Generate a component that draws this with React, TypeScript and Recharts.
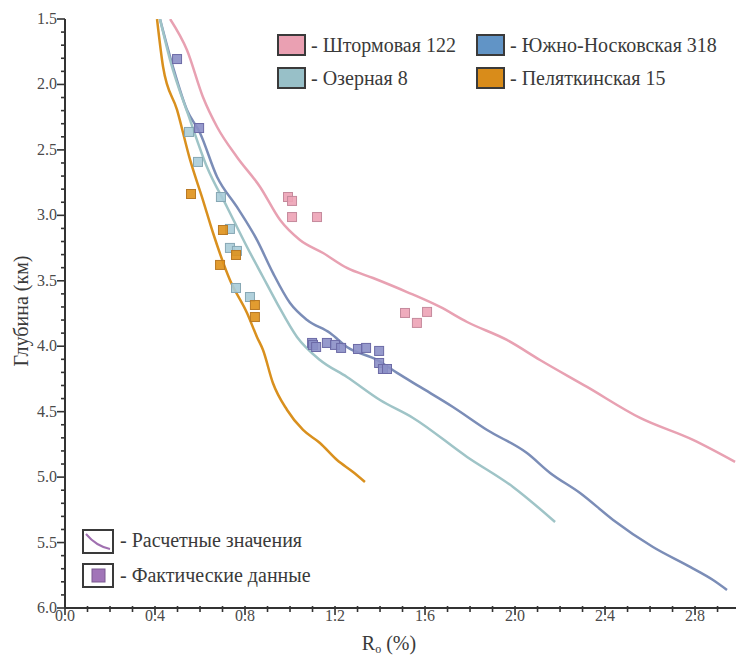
import { ComposedChart, Line, Scatter, XAxis, YAxis } from 'recharts';

// Расчетные кривые: R0 (%) vs глубина (км)
const shtormovayaLine = [
  { r: 0.467, d: 1.5 }, { r: 0.542, d: 1.737 }, { r: 0.613, d: 2.096 }, { r: 0.676, d: 2.325 },
  { r: 0.764, d: 2.554 }, { r: 0.867, d: 2.783 }, { r: 0.956, d: 3.036 }, { r: 1.044, d: 3.188 },
  { r: 1.147, d: 3.288 }, { r: 1.253, d: 3.402 }, { r: 1.369, d: 3.479 }, { r: 1.52, d: 3.586 },
  { r: 1.667, d: 3.7 }, { r: 1.787, d: 3.815 }, { r: 1.964, d: 3.952 }, { r: 2.111, d: 4.105 },
  { r: 2.32, d: 4.311 }, { r: 2.556, d: 4.548 }, { r: 2.791, d: 4.716 }, { r: 2.978, d: 4.884 },
];
const noskovskayaLine = [
  { r: 0.422, d: 1.5 }, { r: 0.48, d: 1.867 }, { r: 0.542, d: 2.195 }, { r: 0.6, d: 2.371 },
  { r: 0.676, d: 2.707 }, { r: 0.764, d: 2.936 }, { r: 0.853, d: 3.188 }, { r: 0.924, d: 3.44 },
  { r: 1.0, d: 3.67 }, { r: 1.076, d: 3.8 }, { r: 1.178, d: 3.899 }, { r: 1.253, d: 4.006 },
  { r: 1.387, d: 4.105 }, { r: 1.476, d: 4.204 }, { r: 1.578, d: 4.311 }, { r: 1.724, d: 4.464 },
  { r: 1.876, d: 4.64 }, { r: 2.053, d: 4.816 }, { r: 2.156, d: 4.968 }, { r: 2.289, d: 5.121 },
  { r: 2.436, d: 5.327 }, { r: 2.613, d: 5.534 }, { r: 2.778, d: 5.686 }, { r: 2.88, d: 5.786 },
  { r: 2.942, d: 5.862 },
];
const ozernayaLine = [
  { r: 0.422, d: 1.5 }, { r: 0.467, d: 1.813 }, { r: 0.556, d: 2.272 }, { r: 0.631, d: 2.631 },
  { r: 0.72, d: 2.936 }, { r: 0.809, d: 3.242 }, { r: 0.88, d: 3.471 }, { r: 0.942, d: 3.67 },
  { r: 1.031, d: 3.929 }, { r: 1.133, d: 4.105 }, { r: 1.253, d: 4.235 }, { r: 1.4, d: 4.411 },
  { r: 1.547, d: 4.548 }, { r: 1.787, d: 4.846 }, { r: 1.991, d: 5.075 }, { r: 2.178, d: 5.343 },
];
const pelyatkinskayaLine = [
  { r: 0.409, d: 1.5 }, { r: 0.436, d: 1.867 }, { r: 0.498, d: 2.195 }, { r: 0.556, d: 2.577 },
  { r: 0.613, d: 2.883 }, { r: 0.658, d: 3.135 }, { r: 0.733, d: 3.494 }, { r: 0.809, d: 3.746 },
  { r: 0.853, d: 3.929 }, { r: 0.88, d: 4.029 }, { r: 0.924, d: 4.281 }, { r: 0.987, d: 4.487 },
  { r: 1.058, d: 4.64 }, { r: 1.133, d: 4.739 }, { r: 1.209, d: 4.869 }, { r: 1.28, d: 4.961 },
  { r: 1.333, d: 5.037 },
];

// Фактические данные
const shtormovayaPoints = [
  { r: 0.991, d: 2.86 }, { r: 1.009, d: 2.89 }, { r: 1.009, d: 3.013 }, { r: 1.12, d: 3.013 },
  { r: 1.511, d: 3.746 }, { r: 1.564, d: 3.822 }, { r: 1.609, d: 3.738 },
];
const noskovskayaPoints = [
  { r: 0.498, d: 1.806 }, { r: 0.596, d: 2.333 },
  { r: 1.098, d: 3.975 }, { r: 1.102, d: 3.99 }, { r: 1.116, d: 4.006 }, { r: 1.164, d: 3.975 },
  { r: 1.2, d: 3.99 }, { r: 1.227, d: 4.013 }, { r: 1.302, d: 4.021 }, { r: 1.338, d: 4.013 },
  { r: 1.396, d: 4.036 }, { r: 1.396, d: 4.128 }, { r: 1.413, d: 4.174 }, { r: 1.431, d: 4.174 },
];
const ozernayaPoints = [
  { r: 0.551, d: 2.363 }, { r: 0.591, d: 2.592 }, { r: 0.693, d: 2.86 }, { r: 0.733, d: 3.104 },
  { r: 0.733, d: 3.249 }, { r: 0.764, d: 3.272 }, { r: 0.76, d: 3.555 }, { r: 0.822, d: 3.624 },
];
const pelyatkinskayaPoints = [
  { r: 0.56, d: 2.837 }, { r: 0.702, d: 3.112 }, { r: 0.76, d: 3.303 }, { r: 0.689, d: 3.379 },
  { r: 0.844, d: 3.685 }, { r: 0.844, d: 3.777 },
];

const seriesNames = ['Штормовая 122', 'Южно-Носковская 318', 'Озерная 8', 'Пеляткинская 15'];
const legendNotes = ['Расчетные значения', 'Фактические данные'];

const xTicks = [0, 0.1, 0.2, 0.3, 0.4, 0.5, 0.6, 0.7, 0.8, 0.9, 1.0, 1.1, 1.2, 1.3, 1.4, 1.5,
  1.6, 1.7, 1.8, 1.9, 2.0, 2.1, 2.2, 2.3, 2.4, 2.5, 2.6, 2.7, 2.8, 2.9];
const xLabels = [0, 0.4, 0.8, 1.2, 1.6, 2.0, 2.4, 2.8];
const yTicks = [1.5, 1.6, 1.7, 1.8, 1.9, 2.0, 2.1, 2.2, 2.3, 2.4, 2.5, 2.6, 2.7, 2.8, 2.9, 3.0,
  3.1, 3.2, 3.3, 3.4, 3.5, 3.6, 3.7, 3.8, 3.9, 4.0, 4.1, 4.2, 4.3, 4.4, 4.5, 4.6, 4.7, 4.8, 4.9,
  5.0, 5.1, 5.2, 5.3, 5.4, 5.5, 5.6, 5.7, 5.8, 5.9, 6.0];
const yLabels = [1.5, 2.0, 2.5, 3.0, 3.5, 4.0, 4.5, 5.0, 5.5, 6.0];

const colors = {
  shtorm: { line: '#e8a1b2', fill: '#eda3b6', stroke: '#c58a9c', box: '#eaa0b2' },
  nosk: { line: '#7b8db7', fill: '#8b8fc6', stroke: '#6c6aa6', box: '#6194c6' },
  ozer: { line: '#9fc4c7', fill: '#a8ccd8', stroke: '#86a7b4', box: '#98c0c8' },
  pel: { line: '#d9901e', fill: '#df9119', stroke: '#b97a26', box: '#d98c1a' },
};

const serif = { fontFamily: "'Liberation Serif', 'Times New Roman', 'DejaVu Serif', serif" };
const isOn = (v: number, list: number[]) => list.some((l) => Math.abs(l - v) < 1e-6);

const BottomTick = (props: any) => {
  const { x, y, payload } = props;
  const major = isOn(payload.value, xLabels);
  return (
    <g>
      <line x1={x} x2={x} y1={y - 2} y2={y + (major ? 7 : 4)} stroke="#333" strokeWidth={1.6} />
      {major && (
        <text x={x} y={y + 13} textAnchor="middle" style={serif} fontSize={16} fill="#4a4a4a">
          {payload.value.toFixed(1)}
        </text>
      )}
    </g>
  );
};

const TopTick = (props: any) => {
  const { x, y, payload } = props;
  const major = isOn(payload.value, xLabels);
  return <line x1={x} x2={x} y1={y} y2={y + (major ? 8 : 5)} stroke="#333" strokeWidth={1.6} />;
};

const LeftTick = (props: any) => {
  const { x, y, payload } = props;
  const major = isOn(payload.value, yLabels);
  return (
    <g>
      <line x1={x - (major ? 8 : 4)} x2={x} y1={y} y2={y} stroke="#333" strokeWidth={1.6} />
      {major && (
        <text x={x - 8} y={y + 5} textAnchor="end" style={serif} fontSize={16} fill="#4a4a4a">
          {payload.value.toFixed(1)}
        </text>
      )}
    </g>
  );
};

const square = (fill: string, stroke: string) => (props: any) => {
  const { cx, cy } = props;
  return <rect x={cx - 4.5} y={cy - 4.5} width={9} height={9} fill={fill} fillOpacity={0.9} stroke={stroke} strokeWidth={1} />;
};

const Overlay = () => {
  const boxes = [
    { x: 278, y: 35, c: colors.shtorm.box, name: seriesNames[0] },
    { x: 477, y: 35, c: colors.nosk.box, name: seriesNames[1] },
    { x: 278, y: 68, c: colors.ozer.box, name: seriesNames[2] },
    { x: 477, y: 68, c: colors.pel.box, name: seriesNames[3] },
  ];
  return (
    <svg width={736} height={655} style={{ position: 'absolute', left: 0, top: 0, pointerEvents: 'none' }}>
      {boxes.map((b) => (
        <g key={b.name}>
          <rect x={b.x} y={b.y} width={27} height={20} fill={b.c} stroke="#3a3a3a" strokeWidth={2} />
          <text x={b.x + 33} y={b.y + 17} style={serif} fontSize={20} fill="#3a3a3a">{'- ' + b.name}</text>
        </g>
      ))}
      <rect x={83} y={530} width={30} height={23} fill="#fff" stroke="#3a3a3a" strokeWidth={2} />
      <path d="M86 534 Q96 546 110 549" fill="none" stroke="#a070b0" strokeWidth={2} />
      <text x={120} y={547} style={serif} fontSize={20} fill="#3a3a3a">{'- ' + legendNotes[0]}</text>
      <rect x={83} y={564} width={30} height={23} fill="#fff" stroke="#3a3a3a" strokeWidth={2} />
      <rect x={92} y={569} width={13} height={13} fill="#a175b8" stroke="#7a5a90" strokeWidth={1} />
      <text x={120} y={582} style={serif} fontSize={20} fill="#3a3a3a">{'- ' + legendNotes[1]}</text>
      <text x={0} y={0} transform="translate(28 311) rotate(-90)" textAnchor="middle" style={serif} fontSize={20} fill="#3a3a3a">
        Глубина (км)
      </text>
      <text x={389} y={650} textAnchor="middle" style={serif} fontSize={20} fill="#3a3a3a">
        R<tspan fontSize={12} dy={3}>o</tspan><tspan dy={-3}> (%)</tspan>
      </text>
    </svg>
  );
};

export default function App() {
  return (
    <div style={{ position: 'absolute', left: 0, top: 0, width: 736, height: 655, background: '#fff' }}>
      <ComposedChart width={736} height={655} margin={{ top: 19, right: 0, bottom: 0, left: 0 }}>
        <XAxis
          xAxisId="bottom"
          type="number"
          dataKey="r"
          domain={[0, 2.982]}
          allowDataOverflow
          ticks={xTicks}
          interval={0}
          height={47}
          tickSize={0}
          tickMargin={0}
          tickLine={false}
          tick={<BottomTick />}
          axisLine={{ stroke: '#333', strokeWidth: 2 }}
        />
        <XAxis
          xAxisId="top"
          orientation="top"
          type="number"
          dataKey="r"
          domain={[0, 2.982]}
          allowDataOverflow
          ticks={xTicks}
          interval={0}
          height={0}
          tickSize={0}
          tickMargin={0}
          tickLine={false}
          tick={<TopTick />}
          axisLine={{ stroke: '#333', strokeWidth: 2 }}
        />
        <YAxis
          type="number"
          dataKey="d"
          domain={[1.5, 6]}
          reversed
          allowDataOverflow
          ticks={yTicks}
          interval={0}
          width={65}
          tickSize={0}
          tickMargin={0}
          tickLine={false}
          tick={<LeftTick />}
          axisLine={{ stroke: '#333', strokeWidth: 2 }}
        />
        <Line xAxisId="bottom" data={shtormovayaLine} dataKey="d" type="monotone" stroke={colors.shtorm.line} strokeWidth={2.5} dot={false} isAnimationActive={false} />
        <Line xAxisId="bottom" data={noskovskayaLine} dataKey="d" type="monotone" stroke={colors.nosk.line} strokeWidth={2.5} dot={false} isAnimationActive={false} />
        <Line xAxisId="bottom" data={ozernayaLine} dataKey="d" type="monotone" stroke={colors.ozer.line} strokeWidth={2.5} dot={false} isAnimationActive={false} />
        <Line xAxisId="bottom" data={pelyatkinskayaLine} dataKey="d" type="monotone" stroke={colors.pel.line} strokeWidth={2.5} dot={false} isAnimationActive={false} />
        <Scatter xAxisId="bottom" data={shtormovayaPoints} dataKey="d" shape={square(colors.shtorm.fill, colors.shtorm.stroke)} isAnimationActive={false} />
        <Scatter xAxisId="bottom" data={noskovskayaPoints} dataKey="d" shape={square(colors.nosk.fill, colors.nosk.stroke)} isAnimationActive={false} />
        <Scatter xAxisId="bottom" data={ozernayaPoints} dataKey="d" shape={square(colors.ozer.fill, colors.ozer.stroke)} isAnimationActive={false} />
        <Scatter xAxisId="bottom" data={pelyatkinskayaPoints} dataKey="d" shape={square(colors.pel.fill, colors.pel.stroke)} isAnimationActive={false} />
      </ComposedChart>
      <Overlay />
    </div>
  );
}
